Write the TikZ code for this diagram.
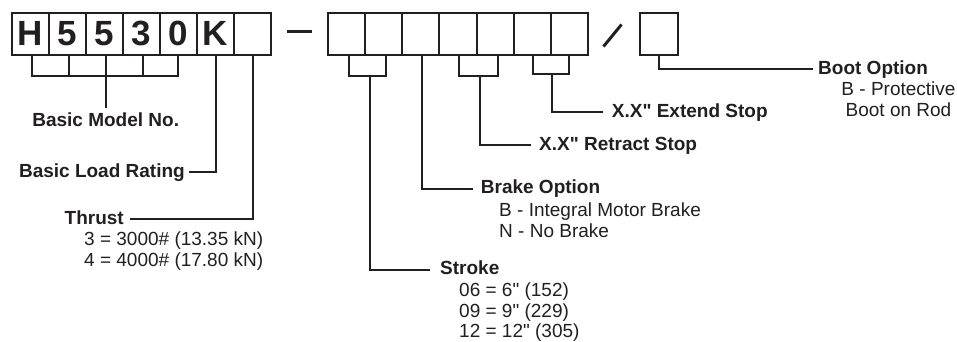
\documentclass[tikz,border=0pt]{standalone}
\usepackage{fontspec}
\setmainfont{Liberation Sans}
\definecolor{ink}{HTML}{231F20}
\newcommand\sq{\XeTeXglyph\the\XeTeXcharglyph"22\relax}
\begin{document}
\begin{tikzpicture}[x=1pt,y=-1pt,
  cell/.style={draw=ink, line width=2pt, minimum width=37pt, minimum height=42pt, inner sep=0pt, anchor=north west},
  digit/.style={font=\fontsize{35}{35}\selectfont\bfseries, text=ink, inner sep=0pt, anchor=base},
  lbl/.style={font=\fontsize{19}{21}\selectfont\bfseries, text=ink, inner ysep=0pt, text height=13.7pt, text depth=3pt},
  val/.style={font=\fontsize{19}{21}\selectfont, text=ink, inner sep=0pt, anchor=base west},
  wire/.style={draw=ink, line width=2pt},
  sepline/.style={draw=ink, line width=3pt}]
\useasboundingbox (0,0) rectangle (957,342);

% ---- left group of cells
\foreach \i in {1,...,7}{
  \node[cell] (L\i) at ({10.7+37*(\i-1)},12) {};
}
\node[digit] (D1) at (L1.center |- 0,46) {H};
\node[digit] (D2) at (L2.center |- 0,46) {5};
\node[digit] (D3) at (L3.center |- 0,46) {5};
\node[digit] (D4) at (L4.center |- 0,46) {3};
\node[digit] (D5) at (L5.center |- 0,46) {0};
\node[digit] (D6) at (L6.center |- 0,46) {K};

% ---- dash
\coordinate (dashA) at (287,32);
\coordinate (dashB) at (312,32);
\draw[sepline] (dashA) -- (dashB);

% ---- middle group of cells
\foreach \i in {1,...,7}{
  \node[cell, minimum width=37.06pt] (M\i) at ({327.3+37.06*(\i-1)},12) {};
}

% ---- slash
\coordinate (slA) at (603.5,46.5);
\coordinate (slB) at (621.5,24.5);
\draw[sepline] (slA) -- (slB);

% ---- last cell
\node[cell, minimum width=38.3pt] (B1) at (639,12) {};

% ---- labels
\node[lbl, anchor=north, inner ysep=5pt] (model) at ([xshift=1.5pt]L3.south |- 0,108) {Basic Model No.};
\node[lbl, anchor=east, inner xsep=4pt] (load) at (189,172) {Basic Load Rating};
\node[lbl, anchor=east, inner xsep=6pt] (thrust) at (130,219) {Thrust};
\node[val] (th1) at (84,245) {3 = 3000\# (13.35 kN)};
\node[val] (th2) at (84,266) {4 = 4000\# (17.80 kN)};

\node[lbl, anchor=west, inner xsep=10pt] (stroke) at (430,269.5) {Stroke};
\node[val] (st1) at (459,296.7) {06 = 6\sq{} (152)};
\node[val] (st2) at (459,317.3) {09 = 9\sq{} (229)};
\node[val] (st3) at (459,337.7) {12 = 12\sq{} (305)};

\node[lbl, anchor=west, inner xsep=7.7pt] (brake) at (473,188.5) {Brake Option};
\node[val] (br1) at (499,216.7) {B - Integral Motor Brake};
\node[val] (br2) at (499,237.3) {N - No Brake};

\node[lbl, anchor=west, inner xsep=8.3pt] (retract) at (530.7,145) {X.X\sq{} Retract Stop};
\node[lbl, anchor=west, inner xsep=8.7pt] (extend) at (603,111.7) {X.X\sq{} Extend Stop};

\node[lbl, anchor=west, inner xsep=4.7pt] (boot) at (813.3,69) {Boot Option};
\node[val, anchor=base] (bo1) at (898.5,95.5) {B - Protective};
\node[val, anchor=base] (bo2) at (898.5,116.5) {Boot on Rod};

% ---- connectors, left group
\draw[wire] ([xshift=2pt]L1.south) -- ([xshift=2pt]L1.south |- 0,75.7)
            -- (L5.south |- 0,75.7) -- (L5.south);
\draw[wire] ([xshift=1.5pt]L2.south) -- ([xshift=1.5pt]L2.south |- 0,75.7);
\draw[wire] ([xshift=2pt]L4.south) -- ([xshift=2pt]L4.south |- 0,75.7);
\draw[wire] ([xshift=1.5pt]L3.south) -- (model.north);
\draw[wire] ([xshift=1pt]L6.south) |- (load.east);
\draw[wire] ([xshift=1pt]L7.south) |- (thrust.east);

% ---- connectors, middle group
\draw[wire] ([xshift=2.5pt]M1.south) -- ([xshift=2.5pt]M1.south |- 0,75.7)
            -- ([xshift=2.5pt]M2.south |- 0,75.7) -- ([xshift=2.5pt]M2.south);
\coordinate (s1) at ([xshift=3.5pt]M1.south east |- 0,75.7);
\draw[wire] (s1) |- (stroke.west);

\draw[wire] ([xshift=1pt]M3.south) |- (brake.west);

\draw[wire] ([xshift=0.6pt]M4.south) -- ([xshift=0.6pt]M4.south |- 0,75.7)
            -- ([xshift=3pt]M5.south |- 0,75.7) -- ([xshift=3pt]M5.south);
\coordinate (s2) at ([xshift=2.3pt]M4.south east |- 0,75.7);
\draw[wire] (s2) |- (retract.west);

\draw[wire] ([xshift=1pt]M6.south) -- ([xshift=1pt]M6.south |- 0,74.3)
            -- (M7.south |- 0,74.3) -- (M7.south);
\coordinate (s3) at (M6.south east |- 0,74.3);
\draw[wire] (s3) |- (extend.west);

% ---- connector, last cell
\draw[wire] (B1.south) |- (boot.west);
\end{tikzpicture}
\end{document}
